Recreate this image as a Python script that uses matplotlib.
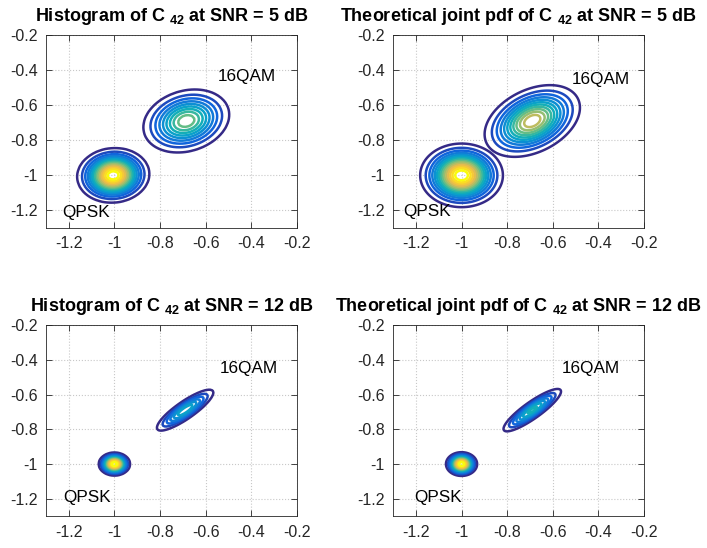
import numpy as np
import matplotlib
matplotlib.use("Agg")
import matplotlib.pyplot as plt
from matplotlib.colors import LinearSegmentedColormap, Normalize

plt.rcParams['font.family'] = ['Liberation Sans', 'DejaVu Sans']
plt.rcParams['mathtext.fontset'] = 'custom'
plt.rcParams['mathtext.rm'] = 'Liberation Sans:bold'
plt.rcParams['mathtext.bf'] = 'Liberation Sans:bold'
plt.rcParams['mathtext.default'] = 'regular'

# parula-like colormap (MATLAB default)
parula_colors = [
    (0.2081, 0.1663, 0.5292), (0.0591, 0.3598, 0.8683), (0.0723, 0.4887, 0.8467),
    (0.0265, 0.6137, 0.8135), (0.0843, 0.6928, 0.7062), (0.3482, 0.7424, 0.5473),
    (0.6473, 0.7456, 0.4188), (0.8824, 0.7274, 0.3217), (0.9880, 0.8066, 0.1794),
    (0.9763, 0.9831, 0.0538),
]
parula = LinearSegmentedColormap.from_list("parula", parula_colors)

# Gaussian parameters: [mean_x, mean_y, sigma_x, sigma_y, rho]
hist_5db_qpsk = [-1.005, -1.0, 0.067, 0.066, 0.05]
hist_5db_qam = [-0.685, -0.69, 0.088, 0.084, 0.20]
theo_5db_qpsk = [-1.0, -1.0, 0.077, 0.077, 0.0]
theo_5db_qam = [-0.69, -0.69, 0.094, 0.092, 0.37]
hist_12db_qpsk = [-1.0, -1.0, 0.029, 0.028, 0.0]
hist_12db_qam = [-0.69, -0.69, 0.063, 0.060, 0.86]
theo_12db_qpsk = [-1.0, -1.0, 0.029, 0.029, 0.0]
theo_12db_qam = [-0.69, -0.69, 0.063, 0.061, 0.88]

titles = [
    "Histogram of C $_{42}$ at SNR = 5 dB",
    "Theoretical joint pdf of C $_{42}$ at SNR = 5 dB",
    "Histogram of C $_{42}$ at SNR = 12 dB",
    "Theoretical joint pdf of C $_{42}$ at SNR = 12 dB",
]
panels = [
    (hist_5db_qpsk, hist_5db_qam, 0.013),
    (theo_5db_qpsk, theo_5db_qam, 0.002),
    (hist_12db_qpsk, hist_12db_qam, 0.008),
    (theo_12db_qpsk, theo_12db_qam, 0.002),
]
qam_text_pos = [(-0.545, -0.434), (-0.516, -0.456), (-0.537, -0.448), (-0.559, -0.453)]
qpsk_text_pos = [(-1.23, -1.21), (-1.256, -1.208), (-1.225, -1.19), (-1.208, -1.19)]
axes_pos = [
    [0.065, 0.584, 0.355, 0.352],
    [0.556, 0.584, 0.355, 0.352],
    [0.065, 0.058, 0.355, 0.349],
    [0.556, 0.058, 0.355, 0.349],
]
n_levels = 15
ticks = [-1.2, -1.0, -0.8, -0.6, -0.4, -0.2]
tick_labels = ["-1.2", "-1", "-0.8", "-0.6", "-0.4", "-0.2"]


def gauss2d(X, Y, p):
    mx, my, sx, sy, r = p
    dx = (X - mx) / sx
    dy = (Y - my) / sy
    q = (dx ** 2 - 2 * r * dx * dy + dy ** 2) / (1 - r ** 2)
    return np.exp(-q / 2) / (2 * np.pi * sx * sy * np.sqrt(1 - r ** 2))


fig = plt.figure(figsize=(7.07, 5.48), dpi=100)
txt_col = (0.15, 0.15, 0.15)

for i, (p1, p2, step) in enumerate(panels):
    ax = fig.add_axes(axes_pos[i])
    g = np.arange(-1.3, -0.2 + step / 2, step)
    X, Y = np.meshgrid(g, g)
    Z = np.maximum(gauss2d(X, Y, p1), gauss2d(X, Y, p2))
    zmax = Z.max()
    levels = zmax * np.arange(1, n_levels + 1) / (n_levels + 1)
    ax.contour(X, Y, Z, levels=levels, cmap=parula,
               norm=Normalize(levels[0], levels[-1]), linewidths=1.8)
    ax.set_xlim(-1.3, -0.2)
    ax.set_ylim(-1.3, -0.2)
    ax.set_xticks(ticks)
    ax.set_xticklabels(tick_labels)
    ax.set_yticks(ticks)
    ax.set_yticklabels(tick_labels)
    ax.grid(True, linestyle=':', color='#c8c8c8', linewidth=0.8)
    ax.tick_params(direction='in', top=True, right=True, labelsize=11.5,
                   colors=txt_col, length=4, width=0.6, pad=6)
    for s in ax.spines.values():
        s.set_color(txt_col)
        s.set_linewidth(0.6)
    ax.set_title(titles[i], fontsize=13, fontweight='bold', pad=10)
    ax.text(qam_text_pos[i][0], qam_text_pos[i][1], "16QAM", fontsize=12.3,
            va='center', ha='left')
    ax.text(qpsk_text_pos[i][0], qpsk_text_pos[i][1], "QPSK", fontsize=12.3,
            va='center', ha='left')

fig.savefig("out.png", dpi=100)
